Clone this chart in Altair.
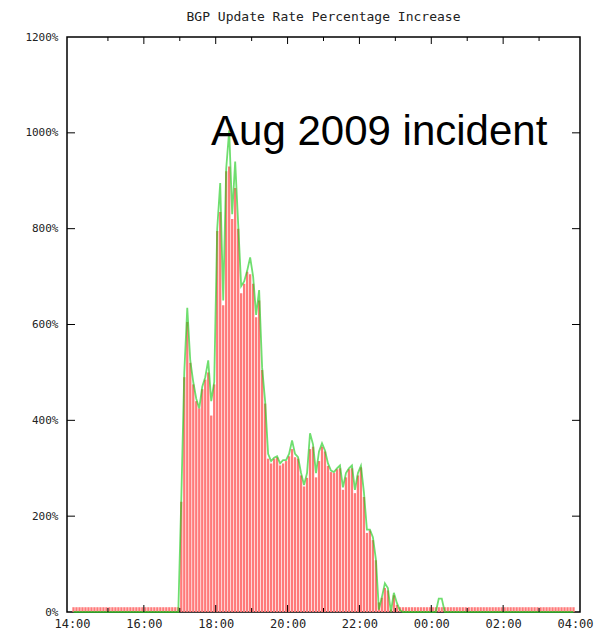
import altair as alt
import pandas as pd

# 5-minute bins from 14:00 to 04:00 (168 bins)
red_values = [
    10, 10, 10, 10, 10, 10, 10, 10, 10, 10, 10, 10,   # 14:00
    10, 10, 10, 10, 10, 10, 10, 10, 10, 10, 10, 10,   # 15:00
    10, 10, 10, 10, 10, 10, 10, 10, 10, 10, 10, 10,   # 16:00
    230, 490, 605, 520, 475, 440, 425, 465, 485, 500, 410, 475,   # 17:00
    795, 835, 640, 920, 930, 820, 885, 800, 665, 685, 710, 705,   # 18:00
    685, 615, 650, 505, 435, 320, 310, 320, 323, 306, 310, 315,   # 19:00
    325, 340, 323, 320, 285, 262, 280, 340, 345, 281, 315, 345,   # 20:00
    335, 305, 292, 290, 298, 300, 255, 281, 298, 300, 248, 285,   # 21:00
    302, 240, 165, 170, 150, 108, 20, 30, 50, 45, 5, 35,          # 22:00
    15, 10, 10, 10, 10, 10, 10, 10, 10, 10, 10, 10,   # 23:00
    10, 10, 10, 10, 10, 10, 10, 10, 10, 10, 10, 10,   # 00:00
    10, 10, 10, 10, 10, 10, 10, 10, 10, 10, 10, 10,   # 01:00
    10, 10, 10, 10, 10, 10, 10, 10, 10, 10, 10, 10,   # 02:00
    10, 10, 10, 10, 10, 10, 10, 10, 10, 10, 10, 10,   # 03:00
]

green_values = [
    0, 0, 0, 0, 0, 0, 0, 0, 0, 0, 0, 0,
    0, 0, 0, 0, 0, 0, 0, 0, 0, 0, 0, 0,
    0, 0, 0, 0, 0, 0, 0, 0, 0, 0, 0, 0,
    235, 500, 635, 525, 480, 445, 425, 470, 490, 525, 440, 480,
    800, 895, 650, 925, 1005, 830, 940, 810, 680, 690, 712, 740,
    700, 620, 672, 510, 440, 330, 315, 322, 325, 310, 317, 317,
    330, 358, 330, 323, 290, 265, 290, 373, 350, 290, 335, 352,
    337, 310, 295, 292, 300, 306, 260, 290, 300, 306, 255, 290,
    305, 250, 172, 172, 156, 110, 5, 31, 60, 50, 0, 40,
    19, 4, 0, 0, 0, 0, 0, 0, 0, 0, 0, 0,
    0, 0, 28, 28, 0, 0, 0, 0, 0, 0, 0, 0,
    0, 0, 0, 0, 0, 0, 0, 0, 0, 0, 0, 0,
    0, 0, 0, 0, 0, 0, 0, 0, 0, 0, 0, 0,
    0, 0, 0, 0, 0, 0, 0, 0, 0, 0, 0, 0,
]

x_label_hours = [14, 16, 18, 20, 22, 24, 26, 28]
major_tick_hours = [16, 18, 20, 22, 24, 26]
minor_tick_hours = [15, 17, 19, 21, 23, 25, 27]
y_ticks = [0, 200, 400, 600, 800, 1000, 1200]
y_inner_ticks = [200, 400, 600, 800, 1000]

title_text = "BGP Update Rate Percentage Increase"
annotation_text = "Aug 2009 incident"
annotation_hour = 17.87
annotation_value = 975

W, H = 513, 575
MONO = "DejaVu Sans Mono"

df = pd.DataFrame({
    "hour": [14 + (i + 0.5) * 5 / 60 for i in range(len(red_values))],
    "red": red_values,
    "green": green_values,
})

xs = alt.Scale(domain=[14, 28], nice=False, zero=False)
ys = alt.Scale(domain=[0, 1200], nice=False)

label_expr = "(datum.value % 24 < 10 ? '0' : '') + (datum.value % 24) + ':00'"

base = alt.Chart(df)

bars = base.mark_bar(size=2.3, color="#ff7a7a").encode(
    x=alt.X("hour:Q", scale=xs, title=None,
            axis=alt.Axis(values=x_label_hours, labelExpr=label_expr, ticks=False,
                          domain=False, grid=False, labelFont=MONO, labelFontSize=12,
                          labelColor="#222", labelPadding=6)),
    y=alt.Y("red:Q", scale=ys, title=None,
            axis=alt.Axis(values=y_ticks, labelExpr="datum.value + '%'", ticks=False,
                          domain=False, grid=False, labelFont=MONO, labelFontSize=11,
                          labelColor="#222", labelPadding=9)),
)

line = base.mark_line(interpolate="linear", color="#22cc22", strokeWidth=1.8,
                      opacity=0.65).encode(
    x=alt.X("hour:Q", scale=xs),
    y=alt.Y("green:Q", scale=ys),
)

major_df = pd.DataFrame({"h": major_tick_hours})
minor_df = pd.DataFrame({"h": minor_tick_hours})
yt_df = pd.DataFrame({"v": y_inner_ticks})

tick_style = dict(color="#000", strokeWidth=1)
top_major = alt.Chart(major_df).mark_rule(**tick_style).encode(
    x=alt.X("h:Q", scale=xs), y=alt.value(0), y2=alt.value(7))
top_minor = alt.Chart(minor_df).mark_rule(**tick_style).encode(
    x=alt.X("h:Q", scale=xs), y=alt.value(0), y2=alt.value(4))
bot_major = alt.Chart(major_df).mark_rule(**tick_style).encode(
    x=alt.X("h:Q", scale=xs), y=alt.value(H), y2=alt.value(H - 7))
bot_minor = alt.Chart(minor_df).mark_rule(**tick_style).encode(
    x=alt.X("h:Q", scale=xs), y=alt.value(H), y2=alt.value(H - 4))
left_ticks = alt.Chart(yt_df).mark_rule(**tick_style).encode(
    y=alt.Y("v:Q", scale=ys), x=alt.value(0), x2=alt.value(8))
right_ticks = alt.Chart(yt_df).mark_rule(**tick_style).encode(
    y=alt.Y("v:Q", scale=ys), x=alt.value(W), x2=alt.value(W - 8))

ann_df = pd.DataFrame({"h": [annotation_hour], "v": [annotation_value], "t": [annotation_text]})
annotation = alt.Chart(ann_df).mark_text(
    font="Liberation Sans", fontSize=42, color="#000", align="left", baseline="alphabetic"
).encode(x=alt.X("h:Q", scale=xs), y=alt.Y("v:Q", scale=ys), text="t:N")

chart = alt.layer(
    bars, line, top_major, top_minor, bot_major, bot_minor, left_ticks, right_ticks, annotation
).properties(
    width=W, height=H,
    title=alt.TitleParams(title_text, font=MONO, fontSize=13, fontWeight="normal",
                          color="#222", offset=7, anchor="middle"),
    autosize=alt.AutoSizeParams(type="none"),
    padding={"left": 59, "top": 29, "right": 19, "bottom": 21},
).configure(background="white").configure_view(stroke="#000", strokeWidth=1.5)

chart.save("out.html", embed_options={"renderer": "svg", "actions": False})
